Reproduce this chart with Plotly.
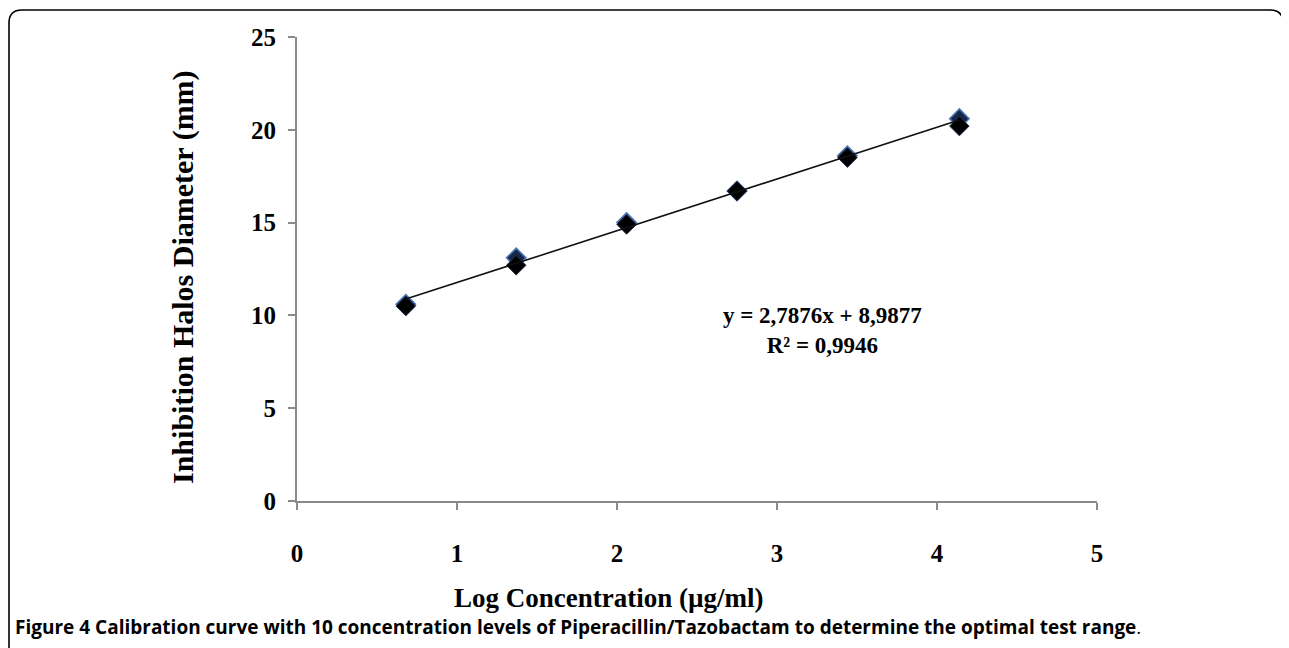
import plotly.graph_objects as go

# Data
log_conc = [0.68, 1.37, 2.06, 2.75, 3.44, 4.14]
diam_rep1 = [10.6, 13.1, 15.0, 16.7, 18.6, 20.6]
diam_rep2 = [10.5, 12.7, 14.9, 16.7, 18.5, 20.2]
slope = 2.7876
intercept = 8.9877
r_squared = 0.9946
x_ticks = [0, 1, 2, 3, 4, 5]
y_ticks = [0, 5, 10, 15, 20, 25]

fit_x = [min(log_conc), max(log_conc)]
fit_y = [slope * v + intercept for v in fit_x]

def comma(v, d):
    return f"{v:.{d}f}".replace(".", ",")

serif = "Liberation Serif"

# page body has an 8px margin; lay out in reference pixel coordinates
OFF = 8
W, H = 1289 - OFF, 648 - OFF
pl, pt = 297 - OFF, 37 - OFF
pw, ph = 800, 464
pr = W - pl - pw
pb = H - pt - ph

def px(x):
    return (x - OFF - pl) / pw

def py(y):
    return (pt + ph - (y - OFF)) / ph

fig = go.Figure()
fig.add_trace(go.Scatter(
    x=log_conc, y=diam_rep1, mode="markers",
    marker=dict(symbol="diamond", size=15, color="#17294a",
                line=dict(color="#4f76b3", width=1.5)),
    showlegend=False, hoverinfo="x+y"))
fig.add_trace(go.Scatter(
    x=log_conc, y=diam_rep2, mode="markers",
    marker=dict(symbol="diamond", size=15, color="#000000",
                line=dict(color="#1c2c48", width=1)),
    showlegend=False, hoverinfo="x+y"))
fig.add_trace(go.Scatter(
    x=fit_x, y=fit_y, mode="lines",
    line=dict(color="#111111", width=1.6),
    showlegend=False, hoverinfo="skip"))

axis_common = dict(
    showline=True, linecolor="#8a8a8a", linewidth=2,
    ticks="outside", ticklen=7, tickwidth=2, tickcolor="#8a8a8a",
    showgrid=False, zeroline=False,
    tickfont=dict(family=serif, size=25, color="#000000", weight="bold"),
)

x0, x1, y0, y1, rr = 9, 1283, 10, 720, 13
path = (f"M {px(x0)} {py(y1)} L {px(x0)} {py(y0 + rr)} "
        f"Q {px(x0)} {py(y0)} {px(x0 + rr)} {py(y0)} "
        f"L {px(x1 - rr)} {py(y0)} "
        f"Q {px(x1)} {py(y0)} {px(x1)} {py(y0 + rr)} "
        f"L {px(x1)} {py(y1)}")

fig.update_layout(
    width=W, height=H,
    paper_bgcolor="white", plot_bgcolor="white",
    margin=dict(l=pl, r=pr, t=pt, b=pb),
    xaxis=dict(range=[0, 5], tickvals=x_ticks, ticklabelstandoff=22, **axis_common),
    yaxis=dict(range=[0, 25], tickvals=y_ticks, ticklabelstandoff=7, **axis_common),
    shapes=[dict(type="path", xref="paper", yref="paper", path=path,
                 line=dict(color="#000000", width=1.6), layer="below")],
)

fig.add_annotation(
    x=px(183), y=py(277), xref="paper", yref="paper",
    xanchor="center", yanchor="middle",
    text="Inhibition Halos Diameter (mm)", textangle=-90, showarrow=False,
    font=dict(family=serif, size=30, color="#000000", weight="bold"))
fig.add_annotation(
    x=px(609), y=py(598), xref="paper", yref="paper",
    xanchor="center", yanchor="middle",
    text="Log Concentration (µg/ml)", showarrow=False,
    font=dict(family=serif, size=27, color="#000000", weight="bold"))
fig.add_annotation(
    x=px(822), y=py(330), xref="paper", yref="paper",
    xanchor="center", yanchor="middle",
    text=f"y = {comma(slope, 4)}x + {comma(intercept, 4)}<br>R² = {comma(r_squared, 4)}",
    showarrow=False, align="center",
    font=dict(family=serif, size=23, color="#000000", weight="bold"))
fig.add_annotation(
    x=px(13), y=py(627), xref="paper", yref="paper",
    xanchor="left", yanchor="middle",
    text="<b>Figure 4</b> <b>Calibration curve with 10 concentration levels of "
         "Piperacillin/Tazobactam to determine the optimal test range</b>.",
    showarrow=False,
    font=dict(family="Open Sans", size=19, color="#000000"))

fig.write_html("out.html")
